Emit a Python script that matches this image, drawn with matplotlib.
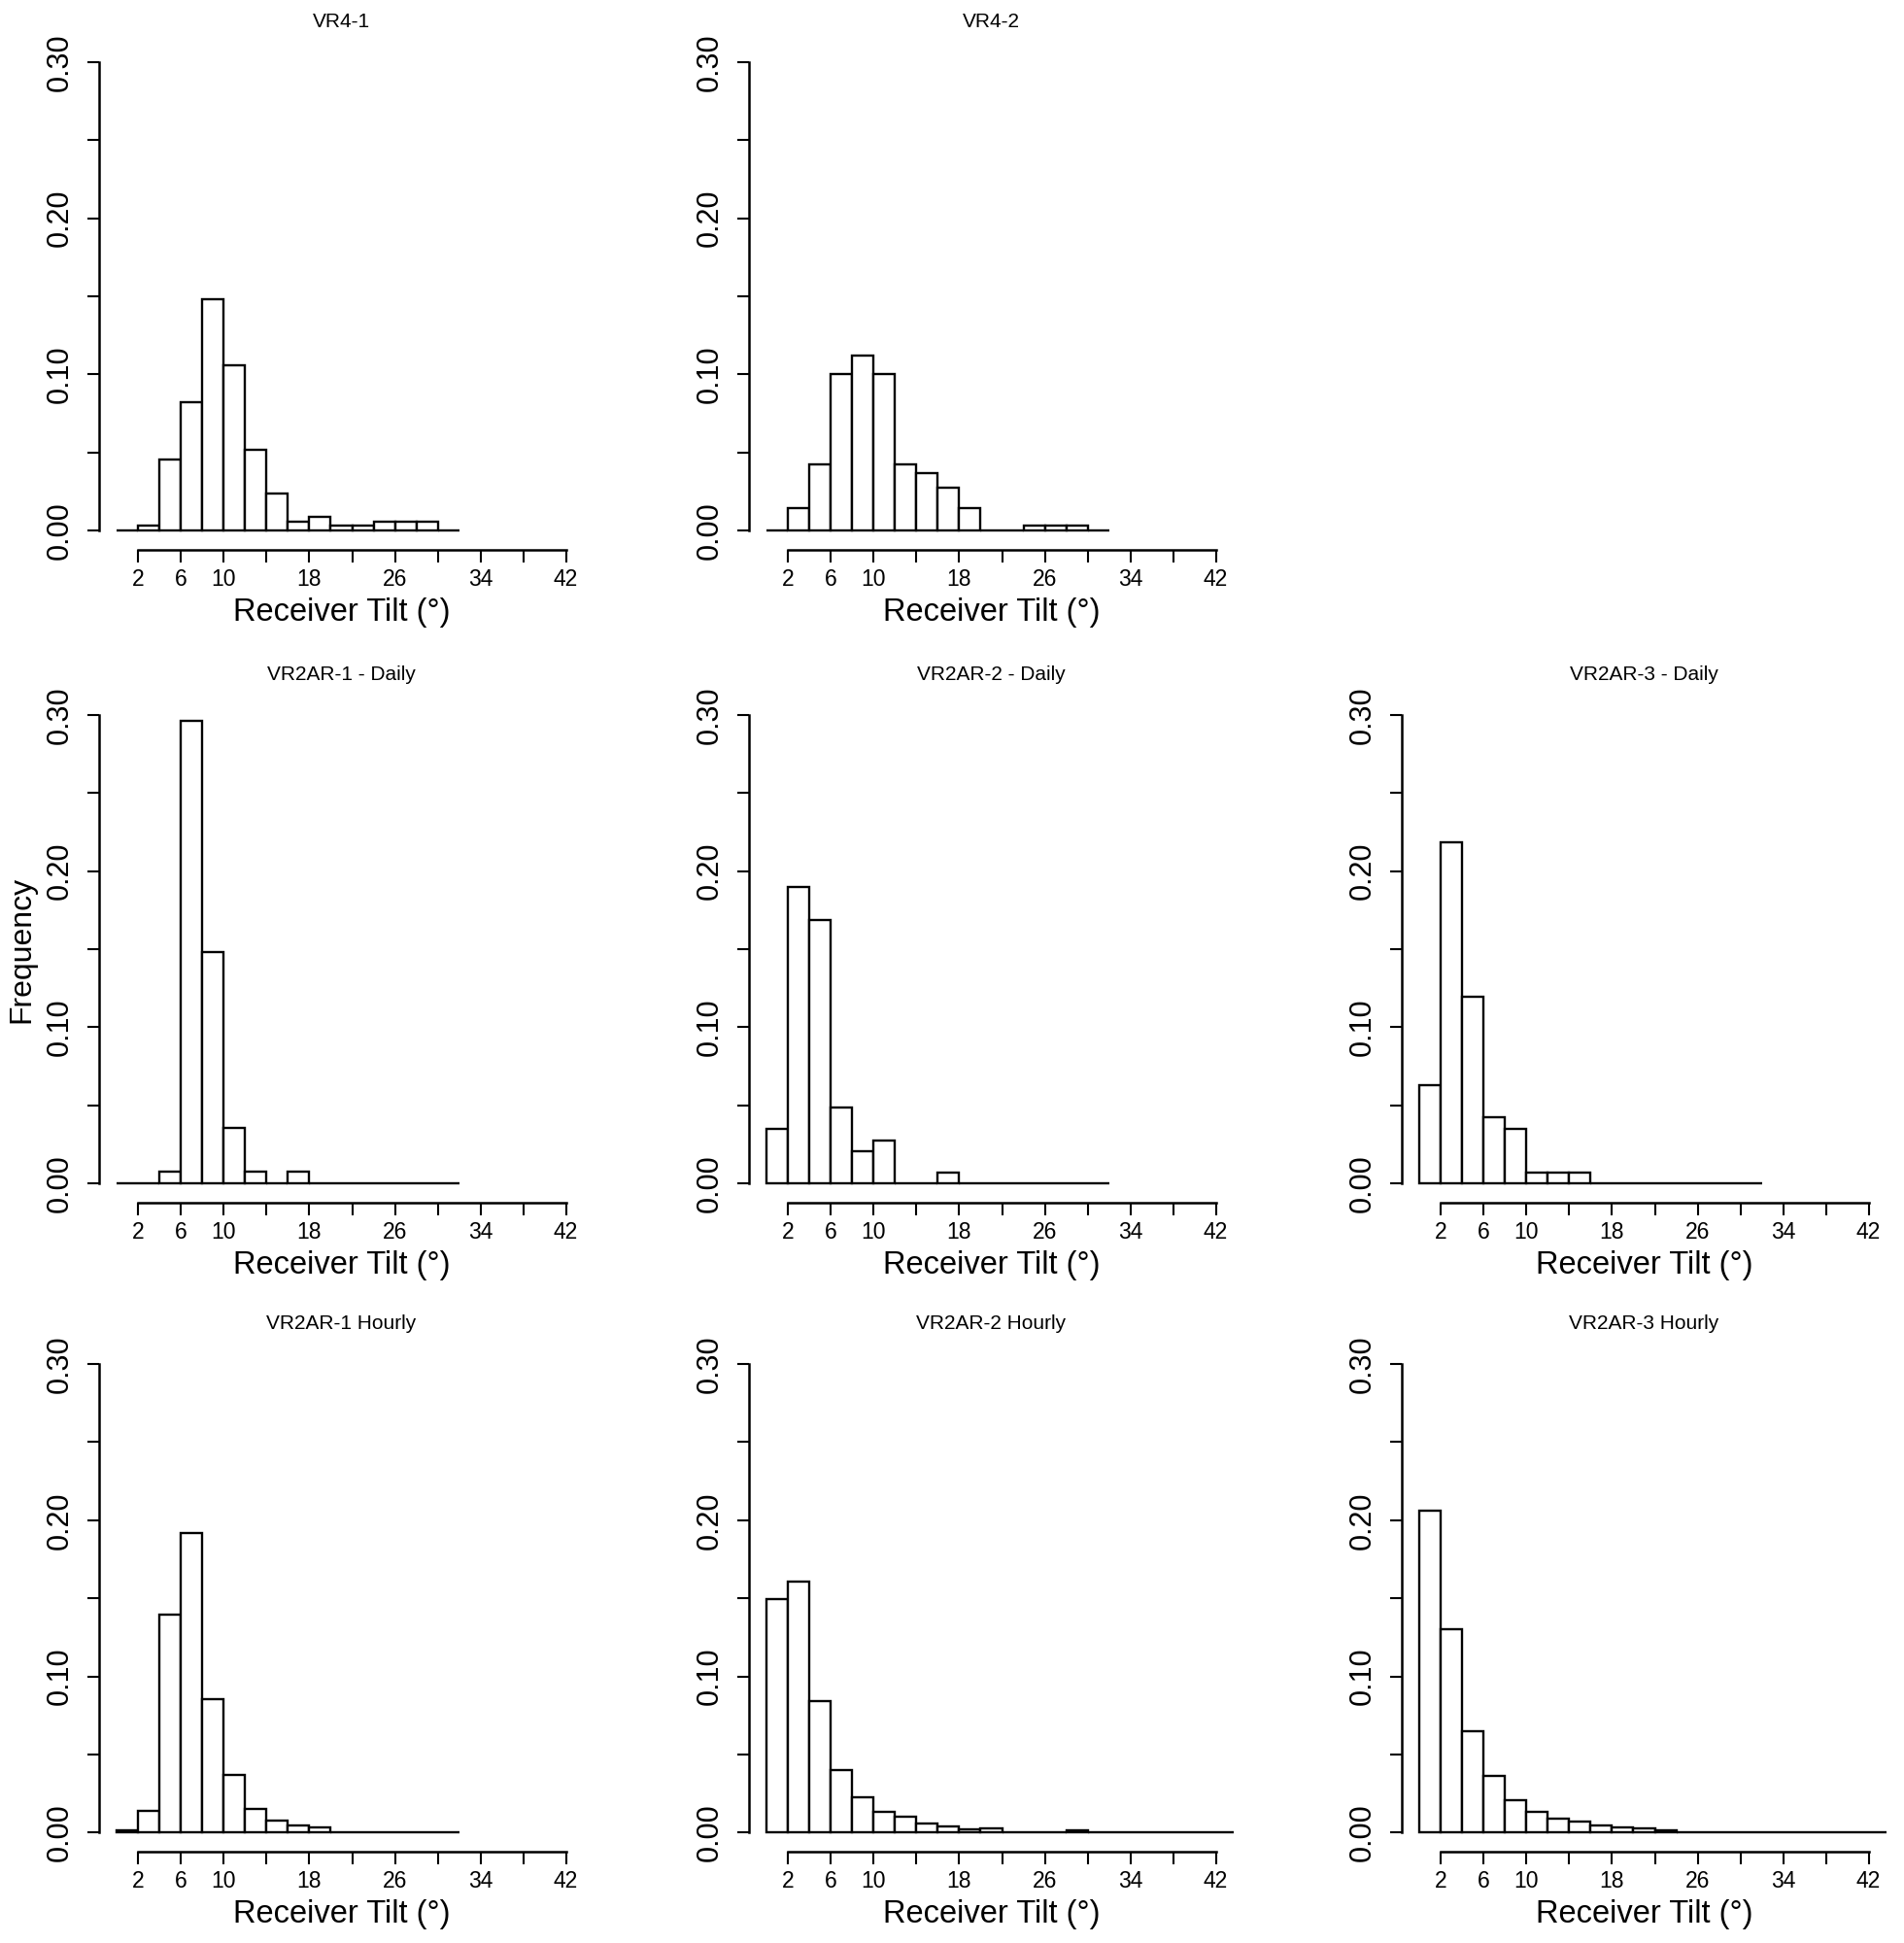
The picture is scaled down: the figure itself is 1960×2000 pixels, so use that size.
import numpy as np
import matplotlib
matplotlib.use("Agg")
import matplotlib.pyplot as plt

plt.rcParams['font.family'] = ['Liberation Sans', 'DejaVu Sans']

# ---------------- data ----------------
bin_width = 2  # degrees, bins start at 0

titles = ["VR4-1", "VR4-2",
          "VR2AR-1 - Daily", "VR2AR-2 - Daily", "VR2AR-3 - Daily",
          "VR2AR-1 Hourly", "VR2AR-2 Hourly", "VR2AR-3 Hourly"]

vr4_1 = [0.0, 0.003, 0.0455, 0.082, 0.148, 0.106, 0.052, 0.024,
         0.0058, 0.0086, 0.003, 0.003, 0.0058, 0.0058, 0.0058, 0.0]
vr4_2 = [0.0, 0.0146, 0.0424, 0.100, 0.112, 0.100, 0.0424, 0.0366,
         0.0275, 0.0146, 0.0, 0.0, 0.003, 0.003, 0.003, 0.0]
vr2ar1_daily = [0.0, 0.0, 0.0073, 0.296, 0.148, 0.0355, 0.0073, 0.0,
                0.0073, 0.0, 0.0, 0.0, 0.0, 0.0, 0.0, 0.0]
vr2ar2_daily = [0.035, 0.190, 0.1687, 0.0488, 0.0205, 0.0278, 0.0, 0.0,
                0.0067, 0.0, 0.0, 0.0, 0.0, 0.0, 0.0, 0.0]
vr2ar3_daily = [0.063, 0.2183, 0.1194, 0.0423, 0.035, 0.0067, 0.0067, 0.0067,
                0.0, 0.0, 0.0, 0.0, 0.0, 0.0, 0.0, 0.0]
vr2ar1_hourly = [0.0016, 0.0141, 0.1395, 0.1918, 0.0857, 0.0371, 0.0149, 0.008,
                 0.0045, 0.0032, 0.0005, 0.0004, 0.0004, 0.0, 0.0, 0.0]
vr2ar2_hourly = [0.1493, 0.1607, 0.0841, 0.040, 0.0225, 0.0133, 0.0101, 0.0058,
                 0.0042, 0.0019, 0.0029, 0.0003, 0.0003, 0.0003, 0.0013, 0.0,
                 0.0, 0.0, 0.0005, 0.0, 0.0, 0.0]
vr2ar3_hourly = [0.2064, 0.130, 0.065, 0.0366, 0.0207, 0.0135, 0.009, 0.0072,
                 0.0045, 0.0034, 0.0027, 0.0013, 0.0005, 0.0002, 0.0004, 0.0004,
                 0.0, 0.0, 0.0, 0.0, 0.0, 0.0]

x_tick_positions = [2, 6, 10, 14, 18, 22, 26, 30, 34, 38, 42]
x_tick_labels = ["2", "6", "10", "", "18", "", "26", "", "34", "", "42"]
y_tick_positions = [0.0, 0.05, 0.10, 0.15, 0.20, 0.25, 0.30]
y_tick_labels = ["0.00", "", "0.10", "", "0.20", "", "0.30"]
x_label = "Receiver Tilt (°)"
y_label = "Frequency"

# ---------------- layout ----------------
W, H = 1960, 2000
fig = plt.figure(figsize=(W / 100, H / 100), dpi=100)

col_left = [102, 771, 1443]
row_top = [44.5, 716.5, 1384.7]
ax_w, ax_h = 499, 521

panels = [
    (0, 0, vr4_1, titles[0]),
    (0, 1, vr4_2, titles[1]),
    (1, 0, vr2ar1_daily, titles[2]),
    (1, 1, vr2ar2_daily, titles[3]),
    (1, 2, vr2ar3_daily, titles[4]),
    (2, 0, vr2ar1_hourly, titles[5]),
    (2, 1, vr2ar2_hourly, titles[6]),
    (2, 2, vr2ar3_hourly, titles[7]),
]

for r, c, vals, title in panels:
    left = col_left[c] / W
    bottom = (H - row_top[r] - ax_h) / H
    ax = fig.add_axes([left, bottom, ax_w / W, ax_h / H])
    vals = np.asarray(vals)
    edges = np.arange(len(vals)) * bin_width
    ax.bar(edges, vals, width=bin_width, align='edge', color='white',
           edgecolor='black', linewidth=1.7)
    ax.set_xlim(-1.68, 43.68)
    ax.set_ylim(-0.012, 0.312)
    for s in ['top', 'right']:
        ax.spines[s].set_visible(False)
    ax.spines['left'].set_bounds(0, 0.30)
    ax.spines['bottom'].set_bounds(2, 42)
    for s in ['left', 'bottom']:
        ax.spines[s].set_linewidth(1.8)
    ax.set_xticks(x_tick_positions)
    ax.set_xticklabels(x_tick_labels, fontsize=16.5)
    ax.set_yticks(y_tick_positions)
    ax.set_yticklabels(y_tick_labels, fontsize=22, rotation=90, va='center')
    ax.tick_params(axis='both', direction='out', length=9, width=1.5)
    ax.tick_params(axis='x', pad=5)
    ax.tick_params(axis='y', pad=9)
    ax.set_xlabel(x_label, fontsize=23.5, va='center')
    ax.xaxis.set_label_coords(0.5, -65 / ax_h)
    ax.text(0.5, 1 + 22 / ax_h, title, transform=ax.transAxes,
            ha='center', va='center', fontsize=15)
    if r == 1 and c == 0:
        ax.text(-80.0 / ax_w, 0.5, y_label, transform=ax.transAxes,
                rotation=90, ha='center', va='center', fontsize=23)

fig.savefig("out.png", dpi=100, facecolor='white')
